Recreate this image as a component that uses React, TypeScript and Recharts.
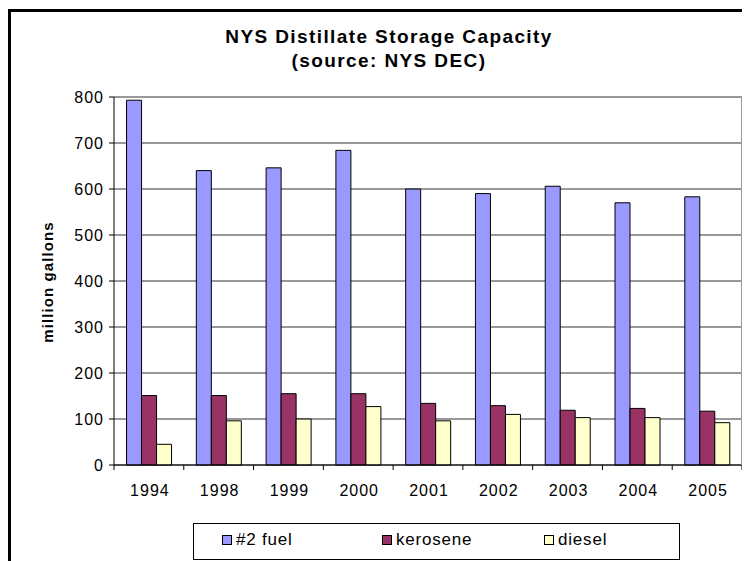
import React from 'react';
import { BarChart, Bar, XAxis, YAxis, CartesianGrid } from 'recharts';

const years = ['1994', '1998', '1999', '2000', '2001', '2002', '2003', '2004', '2005'];
const fuel2 = [793, 640, 646, 684, 600, 590, 606, 570, 583];
const kerosene = [151, 151, 155, 155, 134, 129, 119, 123, 117];
const diesel = [45, 96, 100, 127, 96, 110, 103, 103, 92];
const yTicks = [0, 100, 200, 300, 400, 500, 600, 700, 800];

const data = years.map((year, i) => ({
  year,
  fuel2: fuel2[i],
  kerosene: kerosene[i],
  diesel: diesel[i],
}));

const font = 'Arial, "Liberation Sans", sans-serif';
const W = 742;
const H = 553;
const margin = { top: 89, right: 8, bottom: 66, left: 0 };
const yAxisWidth = 106;
const band = (W - margin.left - margin.right - yAxisWidth) / years.length;

// x ticks sit on category boundaries, like Excel
function YearTick(props: any) {
  const { x, y, payload, index } = props;
  return (
    <g>
      <line x1={x - band / 2} x2={x - band / 2} y1={y - 8} y2={y - 3} stroke="#000" />
      {index === years.length - 1 && (
        <line x1={x + band / 2} x2={x + band / 2} y1={y - 8} y2={y - 3} stroke="#000" />
      )}
      <text
        x={x + 1}
        y={y + 23}
        textAnchor="middle"
        fontSize={16}
        letterSpacing={1}
        fontFamily={font}
        fill="#000"
      >
        {payload.value}
      </text>
    </g>
  );
}

const legendItems = [
  { label: '#2 fuel', color: '#9999FF', left: 28 },
  { label: 'kerosene', color: '#993366', left: 188 },
  { label: 'diesel', color: '#FFFFCC', left: 350 },
];

export default function App() {
  return (
    <div style={{ position: 'relative', width: W, height: H, fontFamily: font, background: '#fff' }}>
      {/* frame */}
      <div style={{ position: 'absolute', left: 0, top: 1, width: W, height: 3, background: '#000' }} />
      <div style={{ position: 'absolute', left: 0, top: 1, width: 3, height: H, background: '#000' }} />

      <div
        style={{
          position: 'absolute',
          left: 181,
          top: 17,
          width: 400,
          textAlign: 'center',
          fontWeight: 'bold',
          fontSize: 19,
          lineHeight: '24px',
          letterSpacing: 1.4,
        }}
      >
        <div>NYS Distillate Storage Capacity</div>
        <div>(source: NYS DEC)</div>
      </div>

      <div
        style={{
          position: 'absolute',
          left: 39,
          top: 274,
          width: 0,
          height: 0,
        }}
      >
        <div
          style={{
            position: 'absolute',
            transform: 'translate(-50%, -50%) rotate(-90deg)',
            whiteSpace: 'nowrap',
            fontWeight: 'bold',
            fontSize: 15,
            letterSpacing: 1.1,
          }}
        >
          million gallons
        </div>
      </div>

      <div style={{ position: 'absolute', left: 0, top: 0 }}>
        <BarChart width={W} height={H} data={data} margin={margin} barCategoryGap="18%" barGap={0}>
          <CartesianGrid vertical={false} stroke="#333" strokeWidth={1} />
          <XAxis
            dataKey="year"
            axisLine={{ stroke: '#000' }}
            tickLine={false}
            tick={<YearTick />}
            height={30}
            interval={0}
          />
          <YAxis
            domain={[0, 800]}
            ticks={yTicks}
            width={yAxisWidth}
            axisLine={{ stroke: '#000' }}
            tickLine={{ stroke: '#000' }}
            tickSize={5}
            tickMargin={5}
            tick={{ fontSize: 16, fill: '#000', fontFamily: font, letterSpacing: 1 }}
          />
          <Bar dataKey="fuel2" fill="#9999FF" stroke="#000" strokeWidth={1} isAnimationActive={false} />
          <Bar dataKey="kerosene" fill="#993366" stroke="#000" strokeWidth={1} isAnimationActive={false} />
          <Bar dataKey="diesel" fill="#FFFFCC" stroke="#000" strokeWidth={1} isAnimationActive={false} />
        </BarChart>
      </div>

      {/* plot area right edge */}
      <div style={{ position: 'absolute', left: W - margin.right - 1, top: margin.top, width: 1, height: H - margin.top - margin.bottom - 30, background: '#999' }} />

      {/* legend */}
      <div
        style={{
          position: 'absolute',
          left: 185,
          top: 515,
          width: 487,
          height: 37,
          border: '1px solid #000',
          boxSizing: 'border-box',
          fontSize: 17,
          letterSpacing: 0.8,
        }}
      >
        {legendItems.map(item => (
          <div
            key={item.label}
            style={{ position: 'absolute', left: item.left, top: 6, display: 'flex', alignItems: 'center', gap: 4 }}
          >
            <span
              style={{
                display: 'inline-block',
                width: 8,
                height: 8,
                background: item.color,
                border: '1px solid #000',
              }}
            />
            <span>{item.label}</span>
          </div>
        ))}
      </div>
    </div>
  );
}
